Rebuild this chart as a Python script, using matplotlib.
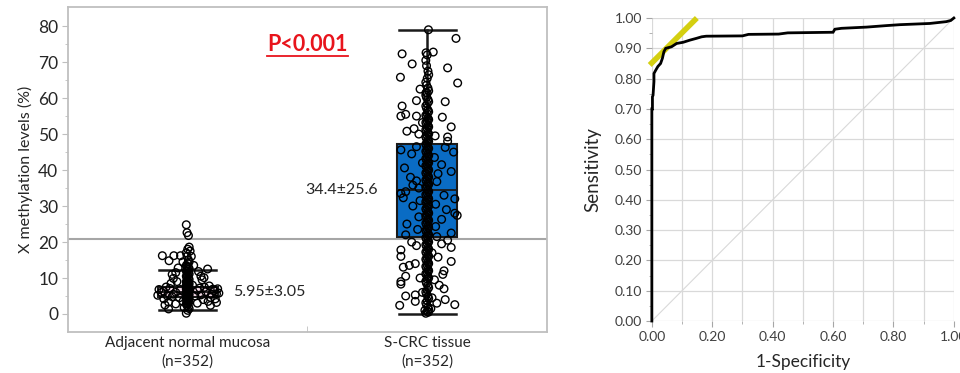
import numpy as np
import matplotlib
matplotlib.use('Agg')
import matplotlib.pyplot as plt

plt.rcParams['font.family'] = ['Lato', 'DejaVu Sans']

# ---- left panel data: methylation levels (%) ----
groups = ['Adjacent normal mucosa\n(n=352)', 'S-CRC tissue\n(n=352)']
box_q1 = [4.6, 21.3]
box_med = [6.0, 34.4]
box_q3 = [7.6, 47.2]
whisk_lo = [1.0, 0.0]
whisk_hi = [12.2, 79.0]
mean_sd_txt = ['5.95\u00b13.05', '34.4\u00b125.6']
cutoff = 20.8

# (value, x jitter)
adj_points = [(16.2, -0.106), (14.8, -0.078), (16.2, -0.058), (16.2, -0.03), (12.5, 0.083),
              (10.1, 0.068), (11.5, -0.05), (9.9, -0.06), (1.4, -0.08),
              (5.2, -0.125), (6.0, -0.11), (4.2, -0.1), (7.5, -0.09), (3.3, -0.08), (8.5, -0.07),
              (5.5, -0.06), (2.8, -0.05), (9.0, -0.045), (4.5, -0.035), (6.8, -0.03), (3.5, -0.02),
              (8.0, 0.02), (5.0, 0.03), (3.0, 0.04), (7.2, 0.05), (9.5, 0.06), (4.0, 0.065),
              (6.2, 0.075), (3.5, 0.085), (7.8, 0.09), (5.5, 0.1), (6.5, 0.11), (4.2, 0.115),
              (7.0, 0.125), (5.8, 0.13), (6.8, -0.12), (3.2, 0.12), (2.5, -0.095), (2.4, 0.095),
              (1.8, -0.015), (10.5, 0.055), (11.0, -0.065), (11.8, 0.045), (12.8, -0.04),
              (13.5, 0.025), (14.5, -0.02), (16.0, 0.015), (17.5, 0.01),
              (6.3, -0.1), (7.1, -0.075), (5.0, -0.085), (6.0, -0.05), (4.8, -0.065),
              (7.4, 0.07), (5.3, 0.055), (6.6, 0.04), (4.6, 0.095), (6.9, 0.105), (5.6, 0.12)]
adj_core = [0.2, 1.0, 1.5, 2.0, 2.4, 2.8, 3.1, 3.4, 3.6, 3.8, 4.0, 4.2, 4.4, 4.6, 4.8, 5.0,
            5.2, 5.4, 5.6, 5.8, 6.0, 6.2, 6.4, 6.6, 6.8, 7.0, 7.2, 7.4, 7.6, 7.8, 8.0, 8.2,
            8.4, 8.6, 8.8, 9.0, 9.3, 9.6, 9.9, 10.2, 10.5, 10.8, 11.1, 11.4, 11.7, 12.0, 12.3,
            12.6, 12.9, 13.2, 13.5, 14.0, 14.5, 15.0, 16.0, 17.0, 18.0, 18.6, 21.8, 22.6, 24.8]

crc_points = [(79.0, 0.005), (76.6, 0.12), (72.3, -0.105), (72.8, 0.025), (72.6, -0.005),
              (69.5, -0.063), (68.4, 0.085), (65.8, -0.112), (64.2, 0.127), (62.5, -0.03),
              (61.5, -0.005), (59.0, 0.075), (59.3, -0.045), (57.8, -0.105), (55.5, -0.09),
              (55.0, -0.11), (55.0, -0.045), (54.7, 0.063), (53.2, -0.02), (52.0, 0.1),
              (51.5, -0.055), (50.8, -0.085), (50.0, -0.035), (49.5, 0.033), (49.2, 0.085),
              (48.0, 0.085), (46.5, -0.045), (46.3, 0.075), (45.6, -0.11), (45.0, 0.11),
              (44.5, -0.065), (43.5, 0.03), (42.0, -0.02), (41.5, 0.06), (40.6, -0.095),
              (39.6, 0.1), (39.0, 0.045), (38.0, -0.07), (37.0, -0.045), (36.8, 0.04),
              (35.8, -0.06), (35.0, -0.035), (34.0, -0.09), (33.5, -0.11), (33.0, 0.07),
              (32.3, -0.1), (32.0, 0.115), (31.5, -0.03), (30.5, 0.035), (30.0, -0.06),
              (29.0, 0.08), (28.0, 0.115), (27.4, 0.125), (27.0, -0.035), (26.3, 0.06),
              (25.0, -0.085), (24.3, 0.035), (23.5, -0.04), (22.5, 0.1), (22.0, -0.09),
              (21.5, 0.04), (20.5, 0.085), (20.0, -0.065), (19.5, 0.06), (19.0, -0.045),
              (18.5, 0.1), (17.8, -0.11), (17.0, 0.02), (16.0, -0.11), (15.8, 0.045),
              (14.6, 0.1), (14.0, -0.05), (13.5, -0.075), (13.0, -0.1), (12.0, 0.07),
              (11.0, 0.065), (10.5, -0.09), (10.0, -0.03), (9.5, 0.03), (9.0, -0.11),
              (8.3, -0.11), (8.0, 0.05), (7.0, 0.07), (6.0, -0.02), (5.3, -0.05), (5.0, -0.09),
              (4.5, 0.02), (4.0, 0.075), (3.5, -0.05), (3.0, 0.04), (2.6, 0.115), (2.4, -0.115),
              (1.0, -0.01), (0.5, 0.005), (1.5, 0.015)]
crc_core = [0.2, 0.7, 1.3, 1.9, 2.5, 3.1, 3.7, 4.3, 4.9, 5.5, 6.1, 6.7, 7.3, 7.9, 8.5, 9.1, 9.7,
            10.0, 10.4, 10.8, 11.2, 11.6, 12.0, 12.4, 12.8, 13.2, 13.6, 14.0, 14.4, 14.8, 15.2,
            15.6, 16.0, 16.4, 16.8, 17.2, 17.6, 18.0, 18.4, 18.8, 19.2, 19.6, 20.0, 20.4, 20.8,
            21.2, 21.6, 22.0, 22.4, 22.8, 23.2, 23.6, 24.0, 24.4, 24.8, 25.2, 25.6, 26.0, 26.4,
            26.8, 27.2, 27.6, 28.0, 28.4, 28.8, 29.2, 29.6, 30.0, 30.4, 30.8, 31.2, 31.6, 32.0,
            32.4, 32.8, 33.2, 33.6, 34.0, 34.4, 34.8, 35.2, 35.6, 36.0, 36.4, 36.8, 37.2, 37.6,
            38.0, 38.4, 38.8, 39.2, 39.6, 40.0, 40.4, 40.8, 41.2, 41.6, 42.0, 42.4, 42.8, 43.2,
            43.6, 44.0, 44.4, 44.8, 45.2, 45.6, 46.0, 46.4, 46.8, 47.2, 47.6, 48.0, 48.4, 48.8,
            49.2, 49.6, 50.0, 50.4, 50.8, 51.2, 51.6, 52.0, 52.4, 52.8, 53.2, 53.6, 54.0, 54.4,
            54.8, 55.2, 55.7, 56.2, 56.7, 57.2, 57.8, 58.4, 59.0, 59.6, 60.2, 60.8, 61.4, 62.0,
            62.8, 63.6, 64.4, 65.5, 66.5, 67.5, 69.0, 70.5, 72.0]

# ---- right panel data: ROC curve ----
roc_fpr = [0.0, 0.0, 0.002, 0.002, 0.004, 0.007, 0.007, 0.013, 0.02, 0.029, 0.035, 0.04,
           0.046, 0.065, 0.082, 0.104, 0.126, 0.148, 0.165, 0.18, 0.30, 0.32, 0.42, 0.45,
           0.60, 0.606, 0.628, 0.711, 0.777, 0.821, 0.92, 0.975, 0.99, 1.0]
roc_tpr = [0.0, 0.70, 0.70, 0.74, 0.745, 0.79, 0.817, 0.828, 0.84, 0.85, 0.867, 0.889,
           0.90, 0.905, 0.916, 0.92, 0.927, 0.933, 0.938, 0.94, 0.941, 0.946, 0.947, 0.951,
           0.953, 0.963, 0.966, 0.97, 0.975, 0.978, 0.982, 0.988, 0.992, 1.0]
tangent_x = [-0.007, 0.149]
tangent_y = [0.845, 1.0]

fig = plt.figure(figsize=(9.6, 3.73), dpi=100)

# ================= left panel =================
ax = fig.add_axes([0.0708, 0.110, 0.499, 0.871])
grey = '#bfbfbf'
dark = '#262626'
stats = []
for i in range(2):
    stats.append(dict(med=box_med[i], q1=box_q1[i], q3=box_q3[i],
                      whislo=whisk_lo[i], whishi=whisk_hi[i], fliers=[]))
bp = ax.bxp(stats, positions=[0, 1], widths=0.25, capwidths=0.24, patch_artist=True,
            showfliers=False,
            boxprops=dict(linewidth=1.5, edgecolor='#1a1a1a'),
            medianprops=dict(color='#1a1a1a', linewidth=1.3),
            whiskerprops=dict(color='#1a1a1a', linewidth=1.8),
            capprops=dict(color='#1a1a1a', linewidth=1.8))
bp['boxes'][0].set_facecolor('#f4dbe7')
bp['boxes'][1].set_facecolor('#0a6cc4')

ax.axhline(cutoff, color='#a6a6a6', linewidth=1.5, zorder=1)

jit = [-0.006, 0.0, 0.006, 0.003, -0.003]
for pos, pts, core in [(0, adj_points, adj_core), (1, crc_points, crc_core)]:
    xs = [pos + p[1] for p in pts] + [pos + jit[k % 5] for k in range(len(core))]
    ys = [p[0] for p in pts] + core
    ax.scatter(xs, ys, s=30, facecolors='none', edgecolors='black', linewidths=1.0, zorder=3)

ax.text(0.19, 6.1, mean_sd_txt[0], fontsize=11.5, color=dark, va='center', ha='left')
ax.text(0.795, 34.5, mean_sd_txt[1], fontsize=11.5, color=dark, va='center', ha='right')
ax.text(0.5, 74.8, 'P<0.001', fontsize=15.5, color='#e8141c', fontweight='bold',
        ha='center', va='center')
ax.plot([0.333, 0.67], [71.6, 71.6], color='#e8141c', linewidth=1.3)

ax.set_xlim(-0.5, 1.5)
ax.set_ylim(-5, 85.3)
ax.set_yticks(np.arange(0, 81, 10))
ax.set_yticks(np.arange(5, 81, 10), minor=True)
ax.set_xticks([0, 1])
ax.set_xticklabels(groups, fontsize=11, color=dark, linespacing=1.4)
ax.set_xticks([0.5], minor=True)
ax.tick_params(axis='x', which='major', length=0, pad=3)
ax.tick_params(axis='x', which='minor', length=4, color=grey, direction='in')
ax.tick_params(axis='y', which='major', length=4, color=grey, labelsize=12.5,
               labelcolor=dark, pad=3)
ax.tick_params(axis='y', which='minor', length=2.5, color=grey)
for s in ax.spines.values():
    s.set_color(grey)
    s.set_linewidth(1.3)
ax.set_ylabel('X methylation levels (%)', fontsize=11.5, color=dark, labelpad=4)

# ================= right panel =================
ax2 = fig.add_axes([0.679, 0.1394, 0.3146, 0.8123])
gc = '#d9d9d9'
ax2.plot([0, 1], [0, 1], color=gc, linewidth=0.8, zorder=1)
ax2.plot(tangent_x, tangent_y, color='#d4cf10', linewidth=4, clip_on=False, zorder=2,
         solid_capstyle='butt')
ax2.plot(roc_fpr, roc_tpr, color='black', linewidth=2, clip_on=False, zorder=3,
         solid_joinstyle='miter')
ax2.set_xlim(0, 1)
ax2.set_ylim(0, 1)
ax2.set_xticks(np.arange(0, 1.01, 0.2))
ax2.set_xticks(np.arange(0, 1.01, 0.1), minor=True)
ax2.set_yticks(np.arange(0, 1.01, 0.1))
ax2.set_yticks(np.arange(0.05, 1.0, 0.1), minor=True)
ax2.xaxis.set_major_formatter(matplotlib.ticker.FormatStrFormatter('%.2f'))
ax2.yaxis.set_major_formatter(matplotlib.ticker.FormatStrFormatter('%.2f'))
ax2.grid(True, which='major', color=gc, linewidth=0.9)
ax2.grid(True, which='minor', axis='x', color=gc, linewidth=0.9)
for s in ax2.spines.values():
    s.set_visible(False)
ax2.tick_params(which='major', length=4, color='#a6a6a6', labelsize=10,
                labelcolor='#404040', pad=3)
ax2.tick_params(which='minor', length=2.5, color='#a6a6a6')
ax2.set_xlabel('1-Specificity', fontsize=12.5, color=dark, labelpad=8)
ax2.set_ylabel('Sensitivity', fontsize=13.5, color=dark, labelpad=10)

fig.savefig('out.png', dpi=100)
